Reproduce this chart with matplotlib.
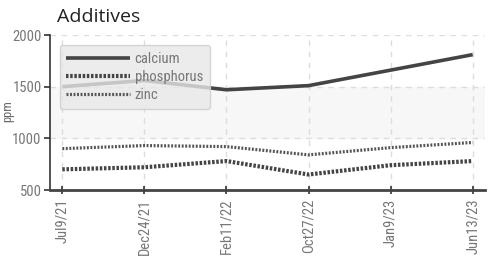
import matplotlib
matplotlib.use("Agg")
import matplotlib.pyplot as plt

dates = ["Jul9/21", "Dec24/21", "Feb11/22", "Oct27/22", "Jan9/23", "Jun13/23"]
calcium = [1500, 1560, 1470, 1510, 1660, 1810]
phosphorus = [700, 720, 780, 650, 740, 780]
zinc = [900, 930, 920, 840, 910, 960]
yticks = [500, 1000, 1500, 2000]

cond = ["Roboto Condensed", "DejaVu Sans"]

fig = plt.figure(figsize=(4.92, 2.61), dpi=100)
ax = fig.add_axes([50/492, 1-190/261, 435/492, 155/261])

x = list(range(len(dates)))
ax.axhspan(1000, 1500, color="#f7f7f7", zorder=0)
for yv in [1000, 1500, 2000]:
    ax.axhline(yv, color="#dddddd", lw=1, ls=(0, (4, 4)), zorder=1)
for xv in x:
    ax.axvline(xv, color="#dddddd", lw=1, ls=(0, (4, 4)), zorder=1)

ax.plot(x, calcium, color="#444444", lw=2.6, solid_capstyle="butt", label="calcium", zorder=3)
ax.plot(x, phosphorus, color="#444444", lw=3.0, ls=(0, (0.6, 0.4)), label="phosphorus", zorder=3)
ax.plot(x, zinc, color="#555555", lw=2.3, ls=(0, (0.6, 0.5)), label="zinc", zorder=3)

ax.set_xlim(-0.15, 5.15)
ax.set_ylim(500, 2000)
ax.set_yticks(yticks)
ax.set_yticklabels([str(v) for v in yticks], fontfamily=cond, fontsize=10.5, color="#777777")
ax.set_xticks(x)
ax.set_xticklabels(dates, rotation=90, fontfamily=cond, fontsize=10.5, color="#777777")
ax.tick_params(axis="x", direction="inout", length=6, width=1.2, color="#333333", pad=3)
ax.tick_params(axis="y", direction="out", length=4, width=1.2, color="#333333", pad=2)

for s in ["top", "right"]:
    ax.spines[s].set_visible(False)
ax.spines["left"].set_color("#333333")
ax.spines["left"].set_linewidth(1.2)
ax.spines["bottom"].set_color("#444444")
ax.spines["bottom"].set_linewidth(2)

fig.text(8/492, 1-111/261, "ppm", rotation=90, family=cond, fontsize=9, color="#666666",
         ha="center", va="center")
fig.text(57/492, 1-17/261, "Additives", fontsize=14, color="#222222", va="center", ha="left",
         family=["Open Sans", "DejaVu Sans"])

leg = ax.legend(loc="upper left", bbox_to_anchor=(0.022, 0.935), handlelength=4.4,
                prop={"family": cond, "size": 10.5}, labelcolor="#777777",
                frameon=True, fancybox=True, borderpad=0.45, labelspacing=0.3,
                handletextpad=0.3, borderaxespad=0)
leg.get_frame().set_facecolor("#e8e8e8")
leg.get_frame().set_edgecolor("#cccccc")
leg.get_frame().set_alpha(0.8)
leg.set_zorder(5)

fig.savefig("out.png", dpi=100)
